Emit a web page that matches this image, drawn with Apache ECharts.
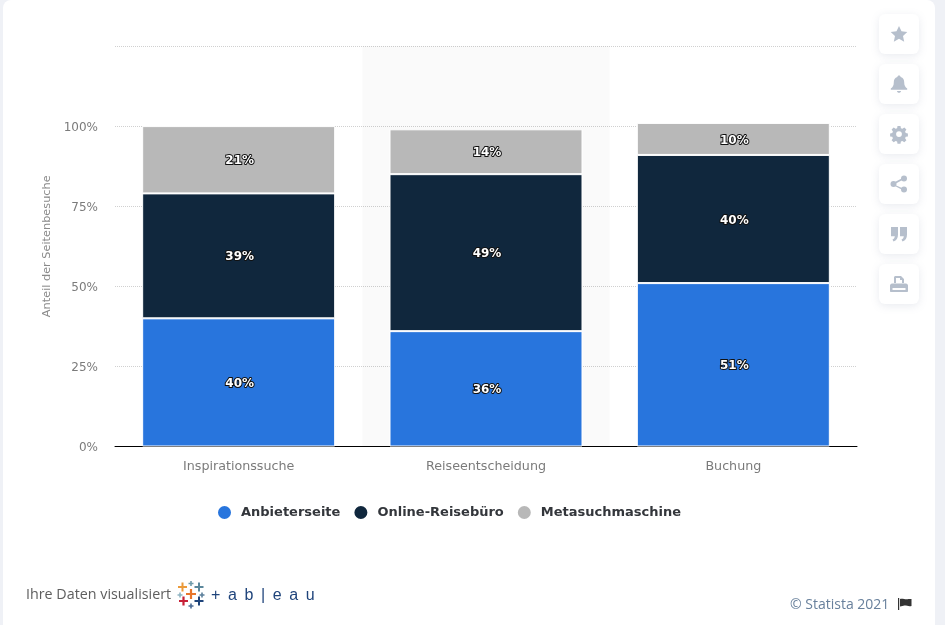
<!doctype html>
<html>
<head>
<meta charset="UTF-8">
<title>Anteil der Seitenbesuche</title>
<script src="https://cdn.jsdelivr.net/npm/echarts@6/dist/echarts.min.js"></script>
<style>
html,body{margin:0;padding:0;width:945px;height:625px;overflow:hidden;background:#eff1f6;}
.card{position:absolute;left:3px;top:0;width:932px;height:625px;background:#fff;border-top-left-radius:8px;border-top-right-radius:8px;}
#main{position:absolute;left:0;top:0;width:945px;height:625px;}
.btn{position:absolute;left:879px;width:40px;height:40px;background:#fff;border-radius:6px;box-shadow:0 2px 8px rgba(120,130,160,.16);}
.btn svg{position:absolute;left:10px;top:10px;width:20px;height:20px;fill:#b6bfcc;}
.credit{position:absolute;left:26px;top:584px;font:14.300px "Open Sans",sans-serif;color:#5e5e5e;}
.logo{position:absolute;left:176px;top:579px;width:145px;height:32px;}
.copy{position:absolute;left:790px;top:594px;font:14px "Open Sans",sans-serif;color:#68809c;}
.flag{position:absolute;left:897px;top:598px;width:15px;height:12px;}
</style>
</head>
<body>
<div class="card"></div>
<div id="main"></div>

<div class="btn" style="top:14px"><svg viewBox="0 0 20 20"><path d="M10 2l2.500 5.300 5.800.7-4.300 4 1.200 5.800-5.200-3-5.200 3 1.200-5.800-4.300-4 5.800-.7z"/></svg></div>
<div class="btn" style="top:64px"><svg viewBox="0 0 20 20"><path d="M10 1.500c1 0 1.500.6 1.600 1.400 2.700.7 3.600 2.800 3.600 5.300 0 3.300 1 4.800 3 6.300v1.300H1.800v-1.300c2-1.500 3-3 3-6.300 0-2.500.9-4.600 3.600-5.300C8.500 2.100 9 1.500 10 1.500zM8 17h4c0 1-.9 1.800-2 1.800S8 18 8 17z"/></svg></div>
<div class="btn" style="top:114px"><svg viewBox="0 0 20 20"><path d="M8.500 2h3l.4 2.200 1.500.6 1.900-1.300 2.100 2.100-1.300 1.900.6 1.500 2.200.4v3l-2.200.4-.6 1.500 1.300 1.900-2.100 2.100-1.900-1.300-1.500.6-.4 2.200h-3l-.4-2.200-1.500-.6-1.900 1.300-2.100-2.100 1.300-1.900-.6-1.500-2.200-.4v-3l2.200-.4.6-1.500-1.300-1.900 2.100-2.100 1.900 1.300 1.500-.6zM10 7.200a2.900 2.900 0 100 5.800 2.900 2.900 0 000-5.800z"/></svg></div>
<div class="btn" style="top:164px"><svg viewBox="0 0 20 20"><circle cx="15" cy="4.500" r="3"/><circle cx="15" cy="15.500" r="3"/><circle cx="4.500" cy="10" r="3"/><path d="M4 9l10.500-5.500.8 1.500L5 10.500l10.300 4.500-.8 1.500L4 11z"/></svg></div>
<div class="btn" style="top:214px"><svg viewBox="0 0 20 20"><path d="M2 3h7v7.500C9 14 7.500 16.500 4.500 17.500l-1-2c1.500-.7 2.200-1.800 2.300-3.300H2zM11 3h7v7.500c0 3.500-1.500 6-4.500 7l-1-2c1.500-.7 2.200-1.800 2.300-3.300H11z"/></svg></div>
<div class="btn" style="top:264px"><svg viewBox="0 0 20 20"><path d="M5 9V3.500C5 2.700 5.700 2 6.500 2H12l3 3v4h-2V6h-2V4H7v5zM3 9.500h14c1 0 2 1 2 2V17c0 .6-.4 1-1 1H2c-.6 0-1-.4-1-1v-5.500c0-1 1-2 2-2zM3.500 14v2h13v-2z"/></svg></div>

<div class="credit">Ihre Daten visualisiert</div>
<svg class="logo" viewBox="0 0 145 32">
	<g stroke-width="2" fill="none">
		<path d="M15 10v10M10 15h10" stroke="#e8762b" stroke-width="2.200"/>
		<path d="M6.500 3.500v9M2 8h9" stroke="#eb9a3a"/>
		<path d="M15 2v5M12.500 4.500h5" stroke="#6f9bab" stroke-width="1.600"/>
		<path d="M23 3.500v9M18.500 8h9" stroke="#5b879b"/>
		<path d="M4 13.500v5M1.500 16h5" stroke="#8fb4c2" stroke-width="1.600"/>
		<path d="M26 13.500v5M23.500 16h5" stroke="#5b7f9b" stroke-width="1.600"/>
		<path d="M7.500 17.500v9M3 22h9" stroke="#c72037" stroke-width="2.200"/>
		<path d="M23 17.500v9M18.500 22h9" stroke="#1f447b"/>
		<path d="M15 24.500v5M12.500 27h5" stroke="#4a6a94" stroke-width="1.600"/>
	</g>
	<text x="35" y="21" font-family="Liberation Sans" font-size="16" fill="#1f447b" letter-spacing="7.600">+ab|eau</text>
</svg>
<div class="copy">© Statista 2021</div>
<svg class="flag" viewBox="0 0 15 12"><path d="M1 0h1.200v12H1zM3 1c3-1 5 1 8.500 0H14.500v7c-3 1-5.500-1-8-.2L3 8.500z" fill="#333"/></svg>

<script type="text/javascript">
var categories = ['Inspirationssuche', 'Reiseentscheidung', 'Buchung'];
var anbieterseite = [40, 36, 51];
var onlineReisebuero = [39, 49, 40];
var metasuchmaschine = [21, 14, 10];
var yTickLabels = ['0%', '25%', '50%', '75%', '100%', ''];

var myChart = echarts.init(document.getElementById('main'));

function makeSeries(name, values, color) {
	return {
		name: name,
		type: 'bar',
		stack: 'gesamt',
		barWidth: 193,
		data: values,
		itemStyle: { color: color, borderColor: '#fff', borderWidth: 1 },
		label: {
			show: true,
			position: 'inside',
			offset: [1, 1.500],
			formatter: '{c}%',
			color: '#fff',
			fontFamily: 'DejaVu Sans',
			fontWeight: 'bold',
			fontSize: 12,
			textBorderColor: '#111',
			textBorderWidth: 2
		}
	};
}

var option = {
	animation: false,
	grid: { left: 115, right: 88, top: 46, bottom: 178.5 },
	legend: {
		left: 211,
		top: 499,
		icon: 'circle',
		itemWidth: 15,
		itemHeight: 15,
		itemGap: 12,
		selectedMode: false,
		textStyle: { fontFamily: 'DejaVu Sans', fontWeight: 'bold', fontSize: 13, color: '#33363b', padding: [0, 0, 0, 4] },
		data: ['Anbieterseite', 'Online-Reisebüro', 'Metasuchmaschine']
	},
	xAxis: {
		type: 'category',
		data: categories,
		axisTick: { show: false },
		axisLine: { lineStyle: { color: '#000', width: 1 } },
		axisLabel: { color: '#7b7b7b', fontFamily: 'DejaVu Sans', fontSize: 12.700, margin: 14 },
		splitArea: { show: true, areaStyle: { color: ['rgba(0,0,0,0)', 'rgba(0,0,0,0.02)'] } }
	},
	yAxis: {
		type: 'value',
		min: 0,
		max: 125,
		interval: 25,
		name: 'Anteil der Seitenbesuche',
		nameLocation: 'middle',
		nameGap: 59,
		nameTextStyle: { color: '#8a8a8a', fontFamily: 'DejaVu Sans', fontSize: 11.300 },
		axisLine: { show: false },
		axisTick: { show: false },
		axisLabel: {
			color: '#7b7b7b',
			fontFamily: 'DejaVu Sans',
			fontSize: 12,
			margin: 17,
			verticalAlign: 'top',
			lineHeight: 3,
			formatter: function (v) { return yTickLabels[v / 25]; }
		},
		splitLine: { lineStyle: { color: '#d0d0d0', type: 'dotted', width: 1 } }
	},
	series: [
		makeSeries('Anbieterseite', anbieterseite, '#2875dd'),
		makeSeries('Online-Reisebüro', onlineReisebuero, '#10273d'),
		makeSeries('Metasuchmaschine', metasuchmaschine, '#b8b8b8')
	]
};
myChart.setOption(option);
</script>
</body>
</html>
